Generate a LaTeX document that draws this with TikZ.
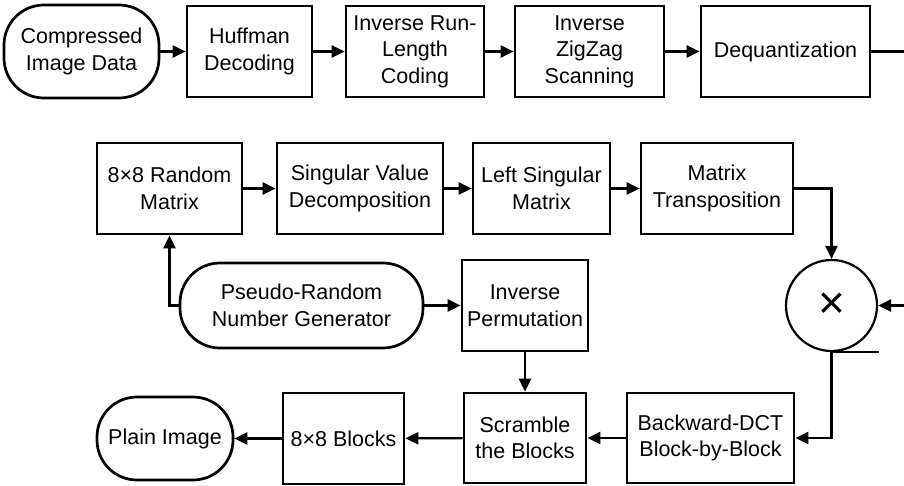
\documentclass[tikz,border=0pt]{standalone}
\usepackage{fontspec}
\setmainfont{Liberation Sans}
\usepackage{tikz}
\usetikzlibrary{arrows.meta}
\newcommand{\boxline}{2.7pt}
\newcommand{\arrowline}{2.2pt}
\newcommand{\blockh}{91pt}
\tikzset{
  block/.style={draw, line width=\boxline, minimum height=\blockh, inner sep=0pt, align=center, font=\fontsize{21.5}{26.5}\selectfont},
  terminal/.style={block, rounded corners=40pt},
  flow/.style={line width=\arrowline, -{Triangle[length=13pt,width=12pt]}}
}

\begin{document}
\begin{tikzpicture}[x=1pt,y=-1pt]
\useasboundingbox (0,0) rectangle (904,486);
%decoding row
\node[terminal, minimum width=155pt, minimum height=93pt] (cid) at (81.5, 51.5) {Compressed\\Image Data};
\node[block, minimum width=125pt] (huff) at (249.5, 51.5) {Huffman\\Decoding};
\node[block, minimum width=138pt] (irlc) at (415, 51.5) {Inverse Run-\\Length\\Coding};
\node[block, minimum width=149pt] (izz) at (589.5, 51.5) {Inverse\\ZigZag\\Scanning};
\node[block, minimum width=169pt] (deq) at (785.5, 51.5) {Dequantization};
\coordinate (deqout) at (904, 51.5);
%matrix row
\node[block, minimum width=145pt] (rmat) at (169.5, 188.5) {8×8 Random\\Matrix};
\node[block, minimum width=166pt] (svd) at (360, 188.5) {Singular Value\\Decomposition};
\node[block, minimum width=137pt] (lsm) at (541.5, 188.5) {Left Singular\\Matrix};
\node[block, minimum width=152pt] (mtr) at (717, 188.5) {Matrix\\Transposition};
%key row
\node[terminal, minimum width=243pt, minimum height=85pt] (prng) at (301.5, 305.5) {Pseudo-Random\\Number Generator};
\node[block, minimum width=126pt] (iperm) at (525, 305.5) {Inverse\\Permutation};
\node[draw, circle, line width=\arrowline, minimum size=91pt, inner sep=0pt, font=\fontsize{46}{46}\selectfont] (mul) at (831.5, 305.5) {×};
\coordinate (mulin) at (904, 305.5);
%output row
\node[terminal, minimum width=136pt, minimum height=83pt] (plain) at (165, 438.5) {Plain Image};
\node[block, minimum width=121pt] (blk) at (343.5, 438.5) {8×8 Blocks};
\node[block, minimum width=122pt, minimum height=90pt] (scr) at (525, 438) {Scramble\\the Blocks};
\node[block, minimum width=167pt, minimum height=90pt] (bdct) at (710.5, 438) {Backward-DCT\\Block-by-Block};
%connectors
\draw[flow] (cid) -- (huff);
\draw[flow] (huff) -- (irlc);
\draw[flow] (irlc) -- (izz);
\draw[flow] (izz) -- (deq);
\draw[line width=\arrowline] (deq) -- (deqout);
\draw[flow] (rmat) -- (svd);
\draw[flow] (svd) -- (lsm);
\draw[flow] (lsm) -- (mtr);
\draw[flow] (mtr.east) -| (mul.north);
\draw[flow] (mulin) -- (mul.east);
\draw[line width=1.5pt] (mul.south) -- ++(47,0);
\draw[flow] (mul.south) |- (bdct.east);
\draw[flow] (prng.west) -| (rmat.south);
\draw[flow] (prng) -- (iperm);
\draw[flow] (iperm) -- (scr);
\draw[flow] (bdct) -- (scr);
\draw[flow] (scr) -- (blk);
\draw[flow] (blk) -- (plain);
\end{tikzpicture}
\end{document}
